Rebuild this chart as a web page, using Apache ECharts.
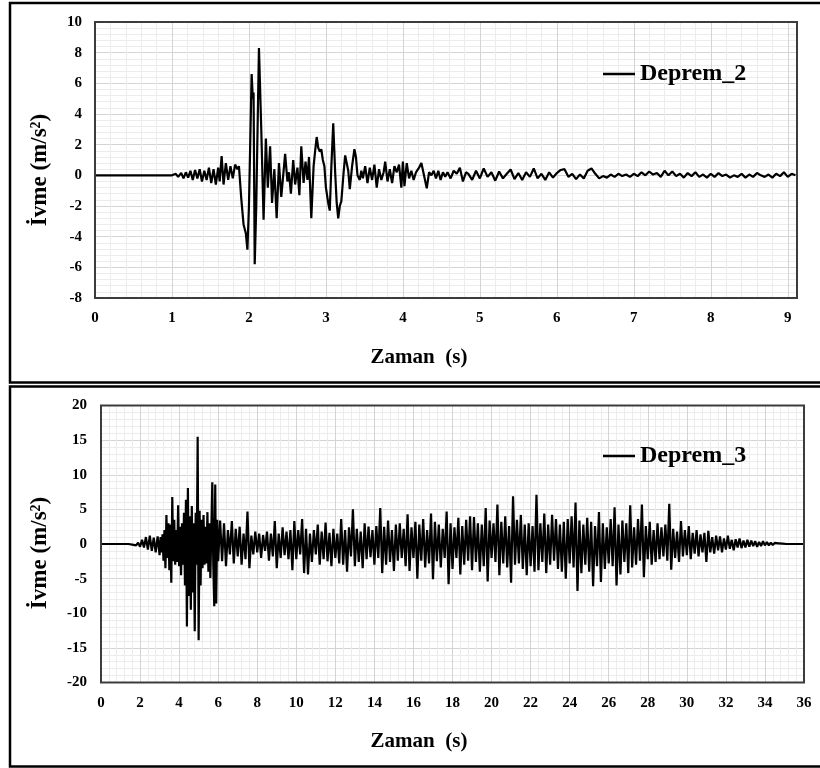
<!DOCTYPE html>
<html>
<head>
<meta charset="utf-8">
<script src="https://cdn.jsdelivr.net/npm/echarts@6/dist/echarts.min.js"></script>
<style>
  html, body { margin: 0; padding: 0; background: #fff; }
  #chart { width: 820px; height: 768px; }
</style>
</head>
<body>
<div id="chart"></div>
<script>
// Deprem_2 acceleration record: [time (s), acceleration (m/s²)]
const deprem2 = [
  [0, 0], [1.0, 0],
  [1.05, 0.1], [1.08, -0.1], [1.12, 0.15], [1.15, -0.2], [1.18, 0.2], [1.21, -0.15], [1.24, 0.3], [1.27, -0.3],
  [1.30, 0.35], [1.33, -0.2], [1.36, 0.4], [1.39, -0.4], [1.42, 0.3], [1.45, -0.3], [1.48, 0.5], [1.51, -0.5],
  [1.54, 0.4], [1.57, -0.6], [1.60, 0.5], [1.62, -0.4], [1.645, 1.25], [1.67, -0.6], [1.70, 0.8], [1.73, -0.3],
  [1.76, 0.6], [1.79, -0.2], [1.82, 0.7], [1.85, 0.4], [1.87, 0.6], [1.90, -1.5], [1.93, -3.2], [1.96, -3.8],
  [1.98, -4.85], [2.0, -2.0], [2.035, 6.6], [2.05, 5.0], [2.06, 5.4], [2.075, -5.8], [2.095, -2.0], [2.13, 8.3],
  [2.16, 3.0], [2.19, -2.9], [2.22, 2.4], [2.245, -0.8], [2.275, 1.9], [2.30, -1.8], [2.33, 0.4], [2.36, -2.8],
  [2.39, 0.8], [2.42, -1.4], [2.47, 1.4], [2.50, -0.4], [2.52, 0.2], [2.545, -1.2], [2.575, 1.0], [2.60, -0.6],
  [2.63, 0.5], [2.655, -1.3], [2.68, 1.9], [2.71, -0.5], [2.735, 0.9], [2.76, -0.3], [2.78, 1.2], [2.81, -2.8],
  [2.84, 0.6], [2.86, 1.6], [2.88, 2.5], [2.90, 1.8], [2.92, 1.55], [2.94, 1.7], [2.96, 1.0], [2.98, 0.6],
  [3.0, -0.8], [3.03, -1.8], [3.05, -2.3], [3.07, 0.5], [3.095, 3.4], [3.12, 0.2], [3.14, -1.8], [3.16, -2.8],
  [3.18, -2.0], [3.20, -1.7], [3.23, 0.2], [3.25, 1.3], [3.27, 1.4], [3.29, 0.3], [3.31, -0.9], [3.34, 0.6],
  [3.37, 1.7], [3.39, 1.2], [3.41, 0.0], [3.44, -0.3], [3.46, 0.3], [3.48, -0.2], [3.51, 0.6], [3.54, -0.5],
  [3.57, 0.5], [3.60, -0.3], [3.63, 0.7], [3.66, -0.8], [3.69, 0.4], [3.72, -0.3], [3.75, 0.2], [3.77, 0.9],
  [3.80, -0.4], [3.83, 0.4], [3.86, -0.5], [3.89, 0.6], [3.92, 0.2], [3.95, 0.7], [3.98, -0.8], [4.0, 0.9],
  [4.02, -0.7], [4.05, 0.8], [4.08, -0.2], [4.11, 0.3], [4.14, -0.3], [4.17, 0.2], [4.21, 0.5], [4.24, 0.8],
  [4.27, 0.1], [4.31, -0.85], [4.34, 0.2], [4.37, 0.0], [4.40, 0.3], [4.43, -0.2], [4.46, 0.3], [4.49, -0.3],
  [4.52, 0.2], [4.55, -0.1], [4.58, 0.2], [4.62, -0.2], [4.66, 0.3], [4.70, 0.1], [4.74, 0.5], [4.78, -0.4],
  [4.82, 0.2], [4.85, 0.1], [4.9, -0.3], [4.95, 0.3], [5.0, -0.2], [5.05, 0.45], [5.1, -0.1], [5.15, 0.2],
  [5.2, -0.35], [5.25, 0.25], [5.3, -0.2], [5.35, 0.1], [5.4, 0.38], [5.45, -0.25], [5.5, 0.15], [5.55, -0.3],
  [5.6, 0.2], [5.65, -0.1], [5.7, 0.45], [5.75, -0.2], [5.8, 0.1], [5.85, -0.3], [5.9, 0.2], [5.95, -0.15],
  [6.0, 0.15], [6.05, 0.35], [6.1, 0.4], [6.15, -0.1], [6.2, 0.1], [6.25, -0.25], [6.3, 0.05], [6.35, -0.2],
  [6.4, 0.3], [6.45, 0.45], [6.5, 0.1], [6.55, -0.2], [6.6, -0.05], [6.65, -0.15], [6.7, 0.05], [6.75, -0.1],
  [6.8, 0.1], [6.85, -0.05], [6.9, 0.05], [6.95, -0.1], [7.0, 0.1], [7.05, -0.05], [7.1, 0.2], [7.15, 0.0],
  [7.2, 0.25], [7.25, 0.05], [7.3, 0.15], [7.35, -0.1], [7.4, 0.3], [7.45, 0.0], [7.5, 0.25], [7.55, -0.05],
  [7.6, 0.1], [7.65, -0.15], [7.7, 0.15], [7.75, -0.05], [7.8, 0.2], [7.85, -0.1], [7.9, 0.05], [7.95, -0.15],
  [8.0, 0.1], [8.05, -0.1], [8.1, 0.15], [8.15, -0.05], [8.2, 0.05], [8.25, -0.15], [8.3, 0.0], [8.35, -0.1],
  [8.4, 0.1], [8.45, -0.15], [8.5, 0.05], [8.55, -0.1], [8.6, 0.15], [8.65, 0.0], [8.7, -0.1], [8.75, 0.05],
  [8.8, -0.15], [8.85, 0.1], [8.9, -0.05], [8.95, 0.2], [9.0, -0.1], [9.05, 0.1], [9.1, 0.0]
];

// Deprem_3 acceleration record (m/s²), in three uniformly sampled parts
// t = 0.0 … 2.9 s, every 0.1 s
const deprem3Pre = [
  0, 0, 0, 0, 0, 0, 0, 0, 0, 0,
  0, 0, 0, 0, 0, 0.1, -0.1, 0.15, -0.2, 0.2,
  -0.4, 0.6, -0.5, 1.0, -0.8, 1.2, -1.0, 0.9, -1.2, 1.1
];
// t = 3.00 … 5.95 s, every 0.05 s (strong motion)
const deprem3Strong = [
  -1.6, 1.0, -1.2, 1.4, -2.4, 2.0, -3.5, 4.2, -2.0, 3.0,
  -3.8, 2.8, -5.6, 6.8, -2.5, 3.5, -3.0, 2.0, -2.6, 5.6,
  -3.2, 2.5, -4.5, 3.0, -3.0, 4.5, -6.0, 6.4, -11.9, 8.1,
  -7.5, 4.0, -9.5, 5.5, -7.0, 3.0, -12.6, 4.5, -3.0, 15.5,
  -13.9, 4.8, -6.0, 3.5, -3.5, 4.2, -3.0, 2.5, -2.8, 4.6,
  -4.0, 3.0, -4.9, 2.0, 8.9, -3.0, -9.0, 8.6, -8.6, 3.5
];
// t = 6.0 … 36.0 s, every 0.1 s, one row per second
const deprem3Main = [
  -2.5, 3.4, -2.5, 3.0, -3.2, 2.0, -1.5, 3.3, -2.8, 2.2,
  -1.8, 2.5, -3.0, 1.5, -2.2, 4.7, -3.5, 1.2, -1.5, 1.8,
  -1.2, 1.5, -2.0, 1.3, -1.0, 1.8, -2.4, 1.5, -1.8, 3.3,
  -3.5, 1.5, -2.0, 2.4, -1.6, 1.8, -2.2, 2.0, -3.8, 3.3,
  -2.2, 2.0, -1.5, 3.6, -4.2, 2.2, -4.4, 1.5, -2.6, 2.0,
  -1.5, 2.8, -3.0, 1.8, -2.2, 3.1, -2.5, 1.6, -3.2, 2.2,
  -2.0, 1.5, -2.8, 3.6, -3.0, 2.0, -4.0, 2.4, -1.8, 5.0,
  -3.2, 2.2, -2.6, 1.8, -3.5, 3.0, -2.2, 2.5, -1.9, 2.0,
  -3.0, 2.6, -2.0, 5.2, -4.2, 2.5, -3.0, 3.4, -2.6, 2.0,
  -3.9, 2.8, -2.4, 3.0, -2.0, 2.2, -3.2, 4.3, -3.9, 2.4,
  -2.0, 3.2, -5.0, 2.8, -2.4, 3.6, -3.4, 2.0, -2.8, 4.4,
  -5.1, 3.2, -2.5, 2.8, -3.4, 2.2, -2.0, 4.7, -5.8, 3.0,
  -3.6, 2.4, -2.0, 3.8, -4.4, 2.6, -3.0, 3.5, -2.4, 4.0,
  -3.8, 3.9, -2.6, 3.0, -4.0, 2.8, -3.2, 5.2, -5.4, 3.4,
  -2.0, 3.0, -2.6, 5.7, -4.5, 3.2, -2.8, 4.0, -3.4, 2.6,
  -5.6, 6.9, -3.0, 3.5, -2.8, 4.2, -3.6, 2.8, -4.5, 3.0,
  -3.2, 2.6, -4.0, 7.1, -3.8, 3.0, -2.6, 4.4, -4.2, 2.8,
  -3.0, 4.2, -2.4, 3.6, -3.6, 2.8, -4.0, 3.2, -5.0, 3.6,
  -2.8, 4.0, -3.4, 6.0, -6.8, 3.4, -4.2, 2.8, -3.0, 3.8,
  -4.0, 3.2, -6.1, 2.6, -3.2, 4.6, -5.5, 3.0, -3.6, 2.4,
  -2.8, 3.6, -3.2, 5.3, -6.0, 2.8, -4.4, 3.4, -2.6, 3.0,
  -4.2, 5.6, -3.4, 2.4, -3.0, 3.6, -2.4, 5.7, -4.8, 2.6,
  -2.2, 3.2, -3.0, 2.0, -2.6, 3.0, -2.2, 2.4, -1.8, 2.8,
  -2.4, 5.8, -3.7, 2.2, -2.0, 1.8, -2.6, 3.3, -1.8, 2.0,
  -1.6, 2.6, -2.2, 1.6, -1.4, 2.0, -1.8, 1.4, -1.2, 1.6,
  -2.6, 1.9, -1.2, 1.0, -1.4, 1.2, -0.9, 1.1, -1.2, 0.8,
  -0.8, 1.2, -0.7, 0.6, -0.9, 0.7, -0.5, 0.8, -0.6, 0.5,
  -0.5, 0.6, -0.4, 0.5, -0.3, 0.4, -0.4, 0.3, -0.3, 0.4,
  -0.2, 0.3, -0.2, 0.2, -0.15, 0.15, -0.1, 0.1, -0.1, 0.05,
  0, 0, 0, 0, 0, 0, 0, 0, 0, 0,
  0
];

// Axis ticks
const top_xTicks = { min: 0, max: 9.12, interval: 1, minorInterval: 0.2 };
const top_yTicks = { min: -8, max: 10, interval: 2 };
const bot_xTicks = { min: 0, max: 36, interval: 2 };
const bot_yTicks = { min: -20, max: 20, interval: 5 };

const seriesNames = ['Deprem_2', 'Deprem_3'];
const xTitle = 'Zaman  (s)';
const yTitle = 'İvme (m/s²)';

const r2 = x => Math.round(x * 100) / 100;
const deprem3 = [].concat(
  deprem3Pre.map((v, i) => [r2(i * 0.1), v]),
  deprem3Strong.map((v, i) => [r2(3 + i * 0.05), v]),
  deprem3Main.map((v, i) => [r2(6 + i * 0.1), v])
);

const SERIF = '"Liberation Serif", "Times New Roman", serif';
const tickFont = { fontFamily: SERIF, fontWeight: 'bold', fontSize: 15, color: '#000' };
const MAJOR = '#d4d4d4';
const MINOR = '#ececec';

function valueAxis(gridIndex, ticks, margin, withMinor) {
  return {
    type: 'value', gridIndex,
    min: ticks.min, max: ticks.max, interval: ticks.interval,
    axisLine: { show: false }, axisTick: { show: false },
    axisLabel: Object.assign({ margin, formatter: v => Number.isInteger(v) ? String(v) : '' }, tickFont),
    splitLine: { show: true, lineStyle: { color: MAJOR, width: 1 } },
    minorTick: { show: false, splitNumber: 5 },
    minorSplitLine: { show: withMinor, lineStyle: { color: MINOR, width: 1 } }
  };
}

// Light 0.2 s grid of the upper panel, kept on its own axis so that the short
// last interval before the right edge does not get squeezed minor lines
function minorGridAxis(gridIndex, ticks) {
  return {
    type: 'value', gridIndex, position: 'top',
    min: ticks.min, max: ticks.max, interval: ticks.minorInterval,
    axisLine: { show: false }, axisTick: { show: false }, axisLabel: { show: false },
    splitLine: { show: true, lineStyle: { color: MINOR, width: 1 } }
  };
}

const chart = echarts.init(document.getElementById('chart'), null, { renderer: 'canvas' });

// plot frame drawn above the grid lines
const gridBox = { show: true, z: 5, borderColor: '#3c3c3c', borderWidth: 2, backgroundColor: 'transparent' };
const legendBase = {
  padding: 0, itemWidth: 32, itemHeight: 2.5, itemGap: 0, icon: 'rect',
  textStyle: { fontFamily: SERIF, fontWeight: 'bold', fontSize: 24, color: '#000', padding: [0, 0, 0, 0] }
};

chart.setOption({
  animation: false,
  backgroundColor: '#fff',
  grid: [
    Object.assign({ left: 95, top: 22, right: 23, bottom: 470 }, gridBox),
    Object.assign({ left: 101, top: 405.5, right: 16, bottom: 85.5 }, gridBox)
  ],
  xAxis: [
    minorGridAxis(0, top_xTicks),
    valueAxis(0, top_xTicks, 13, false),
    valueAxis(1, bot_xTicks, 13, true)
  ],
  yAxis: [
    valueAxis(0, top_yTicks, 13, true),
    valueAxis(1, bot_yTicks, 14, true)
  ],
  legend: [
    Object.assign({ data: [seriesNames[0]], left: 603, top: 62 }, legendBase),
    Object.assign({ data: [seriesNames[1]], left: 603, top: 444 }, legendBase)
  ],
  series: [
    {
      name: seriesNames[0], type: 'line', xAxisIndex: 1, yAxisIndex: 0,
      data: deprem2, symbol: 'none', smooth: false,
      lineStyle: { color: '#000', width: 2.2 }, itemStyle: { color: '#000' }
    },
    {
      name: seriesNames[1], type: 'line', xAxisIndex: 2, yAxisIndex: 1,
      data: deprem3, symbol: 'none', smooth: false,
      lineStyle: { color: '#000', width: 2.2 }, itemStyle: { color: '#000' }
    }
  ],
  graphic: [
    { type: 'rect', silent: true, shape: { x: 10, y: 3, width: 830, height: 379.5 },
      style: { fill: 'none', stroke: '#000', lineWidth: 2.5 } },
    { type: 'rect', silent: true, shape: { x: 10, y: 386.5, width: 830, height: 380 },
      style: { fill: 'none', stroke: '#000', lineWidth: 2.5 } },
    { type: 'text', silent: true, x: 419, y: 358,
      style: { text: xTitle, font: 'bold 21px ' + SERIF, fill: '#000', align: 'center', verticalAlign: 'middle' } },
    { type: 'text', silent: true, x: 419, y: 742,
      style: { text: xTitle, font: 'bold 21px ' + SERIF, fill: '#000', align: 'center', verticalAlign: 'middle' } },
    { type: 'text', silent: true, x: 40, y: 170, rotation: Math.PI / 2,
      style: { text: yTitle, font: 'bold 23px ' + SERIF, fill: '#000', align: 'center', verticalAlign: 'middle' } },
    { type: 'text', silent: true, x: 40, y: 553, rotation: Math.PI / 2,
      style: { text: yTitle, font: 'bold 23px ' + SERIF, fill: '#000', align: 'center', verticalAlign: 'middle' } }
  ]
});
</script>
</body>
</html>
